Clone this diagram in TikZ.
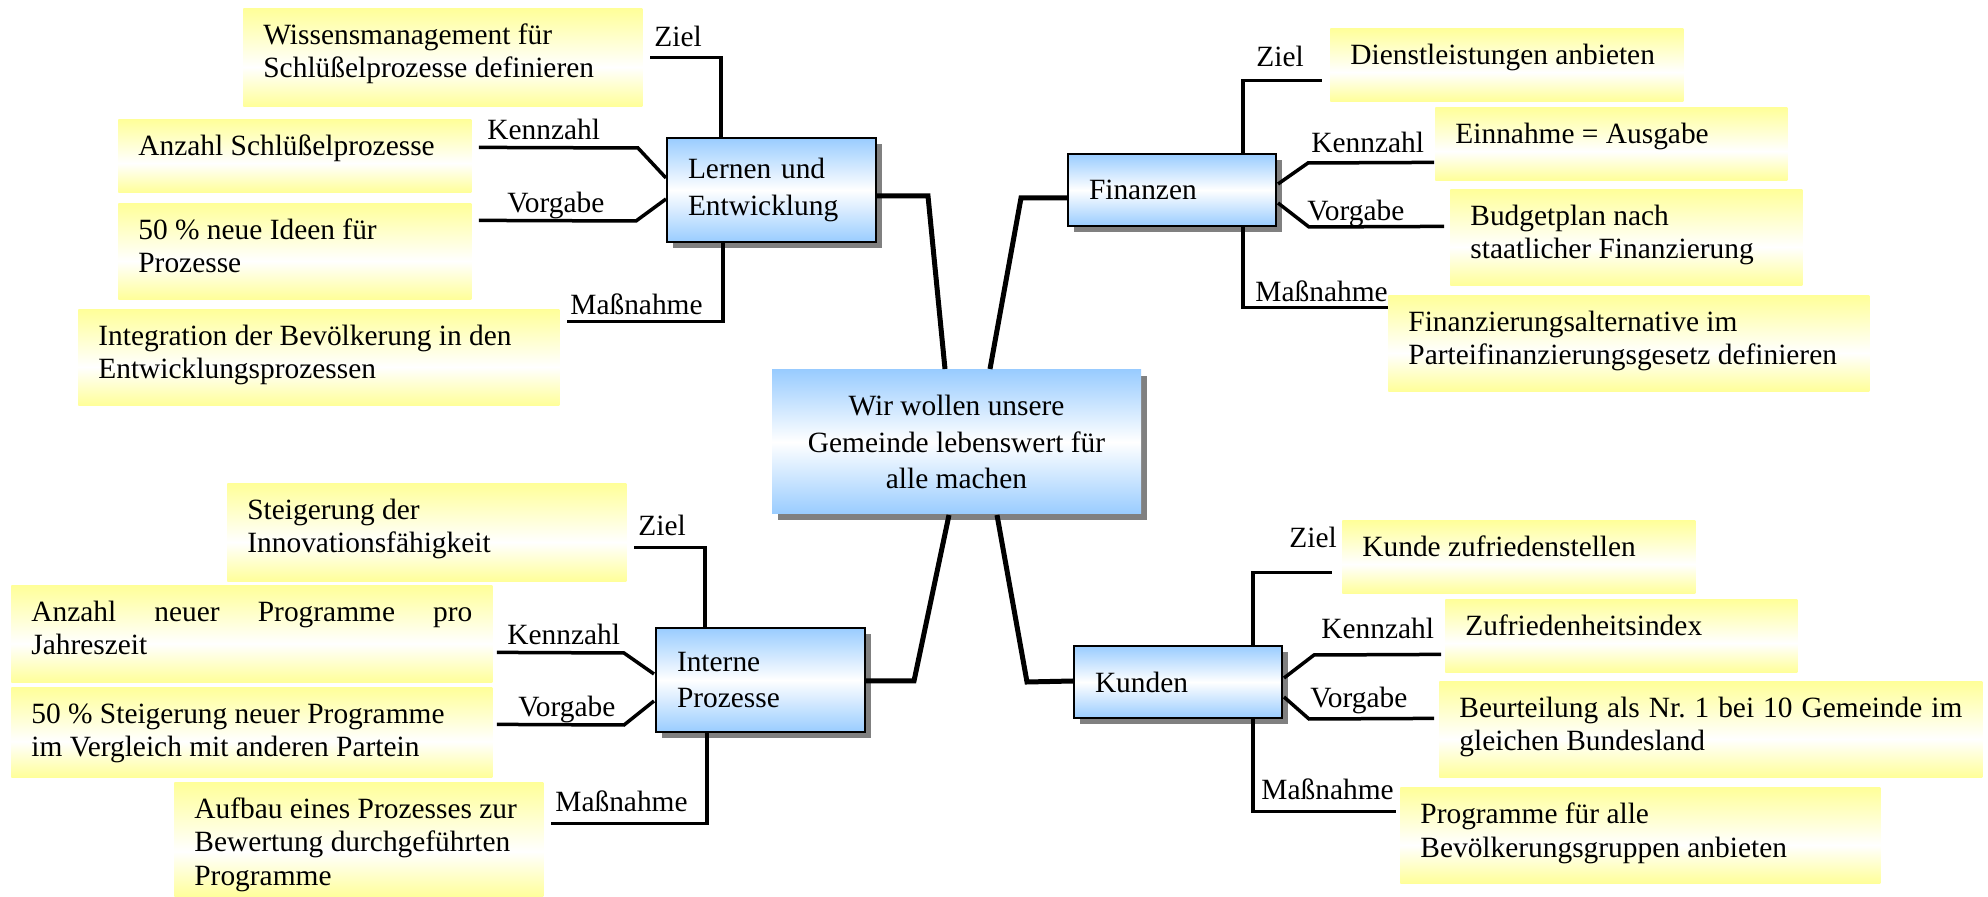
\documentclass[tikz,border=0pt]{standalone}
\usepackage{fontspec}
\setmainfont{Liberation Serif}
\usetikzlibrary{shadows,calc}
\definecolor{yel}{RGB}{255,255,153}
\definecolor{blu}{RGB}{153,204,255}
\definecolor{shd}{RGB}{128,128,128}
% soft vertical fades: yellow - white - yellow, blue - white - blue
\pgfdeclareverticalshading{yshade}{100bp}{color(0bp)=(yel); color(25bp)=(yel); color(45bp)=(white); color(75bp)=(yel); color(100bp)=(yel)}
\pgfdeclareverticalshading{bshade}{100bp}{color(0bp)=(blu); color(25bp)=(blu); color(50bp)=(white); color(75bp)=(blu); color(100bp)=(blu)}
\hyphenpenalty=10000 \exhyphenpenalty=10000
\frenchspacing
% yellow text box: name, x1, y1, x2, y2, text options, text (top aligned)
\newcommand\ynode[7]{%
  \pgfmathsetmacro\boxw{(#4-#2)*0.5}%
  \pgfmathsetmacro\boxh{(#5-#3)*0.5}%
  \node[ybox, minimum width=\boxw pt, minimum height=\boxh pt,
    anchor=north west] (#1) at (#2,#3) {};
  \node[ytext, #6] (#1t) at ([shift={(20,14)}]#1.north west) {\rule{0pt}{11pt}#7};}
% blue perspective box: name, x1, y1, x2, y2, text
\newcommand\bnode[6]{%
  \pgfmathsetmacro\boxw{(#4-#2)*0.5}%
  \pgfmathsetmacro\boxh{(#5-#3)*0.5}%
  \pgfmathsetmacro\boxtw{(#4-#2-42)*0.5}%
  \node[bbox, align=left, text width=\boxtw pt, minimum width=\boxw pt,
    minimum height=\boxh pt, anchor=north west] (#1) at (#2,#3) {#6};}
\begin{document}
\begin{tikzpicture}[x=0.5pt, y=-0.5pt,
  font=\fontsize{14.7pt}{16.8pt}\selectfont,
  ybox/.style={inner sep=0pt, shade, shading=yshade},
  ytext/.style={anchor=north west, inner sep=0pt, align=left},
  bbox/.style={inner sep=0pt, shade, shading=bshade, draw=black, line width=1pt,
    font=\fontsize{14.7pt}{18.4pt}\selectfont,
    drop shadow={shadow xshift=3pt, shadow yshift=-3pt, fill=shd, opacity=1}},
  lab/.style={anchor=base west, inner sep=0pt},
  br/.style={line width=1.75pt},
  trunk/.style={line width=2.5pt}]
\useasboundingbox[fill=white] (0,0) rectangle (1988,897);

% central vision
\node[bbox, draw=none, align=center, minimum width=184.5pt, minimum height=72pt,
  anchor=north west] (C) at (771,369)
  {Wir wollen unsere\\Gemeinde lebenswert für\\alle machen};

% four perspectives
\bnode{L}{666}{137}{875}{241}{Lernen und\\Entwicklung}
\bnode{F}{1067}{153}{1275}{225}{Finanzen}
\bnode{I}{655}{627}{864}{731}{Interne\\Prozesse}
\bnode{K}{1073}{645}{1281}{717}{Kunden}

% Lernen und Entwicklung
\ynode{wiss}{243}{8}{642}{106}{}{Wissensmanagement für\\Schlüßelprozesse definieren}
\ynode{anzs}{118}{119}{471}{192}{}{Anzahl Schlüßelprozesse}
\ynode{ideen}{118}{203}{471}{299}{}{50 \% neue Ideen für\\Prozesse}
\ynode{integ}{78}{309}{559}{405}{}{Integration der Bevölkerung in den\\Entwicklungsprozessen}

% Finanzen
\ynode{dienst}{1330}{28}{1683}{101}{}{Dienstleistungen anbieten}
\ynode{einn}{1435}{107}{1787}{180}{}{Einnahme = Ausgabe}
\ynode{budget}{1450}{189}{1802}{285}{}{Budgetplan nach\\staatlicher Finanzierung}
\ynode{finalt}{1388}{295}{1869}{391}{}{Finanzierungsalternative im\\Parteifinanzierungsgesetz definieren}

% Interne Prozesse
\ynode{steig}{227}{483}{626}{581}{}{Steigerung der\\Innovationsfähigkeit}
\ynode{anzp}{11}{585}{492}{682}{align=justify, text width=220.5pt}{\tolerance=10000 Anzahl neuer Programme pro Jahreszeit}
\ynode{steigp}{11}{687}{492}{777}{}{50 \% Steigerung neuer Programme\\im Vergleich mit anderen Partein}
\ynode{aufbau}{174}{782}{543}{897}{}{Aufbau eines Prozesses zur\\Bewertung durchgeführten\\Programme}

% Kunden
\ynode{kzufr}{1342}{520}{1695}{593}{}{Kunde zufriedenstellen}
\ynode{zufr}{1445}{599}{1797}{672}{}{Zufriedenheitsindex}
\ynode{beurt}{1439}{681}{1982}{777}{align=justify, text width=251.5pt}{Beurteilung als Nr. 1 bei 10 Gemeinde im gleichen Bundesland}
\ynode{progr}{1400}{787}{1880}{883}{}{Programme für alle\\Bevölkerungsgruppen anbieten}

% trunks from the vision to the perspectives
\draw[trunk] ([shift={(0,6)}]L.east) -- ++(51,0) -- ([shift={(-11.5,0)}]C.north);
\draw[trunk] ([shift={(0,8)}]F.west) -- ++(-46,0) -- ([shift={(33.5,0)}]C.north);
\draw[trunk] ([shift={(0,1)}]I.east) -- ++(48,0) -- ([shift={(-7.5,0)}]C.south);
\draw[trunk] ([shift={(40.5,0)}]C.south) -- ++(30,167) -- ([shift={(0,-1)}]K.west);

% branches: Lernen und Entwicklung
\draw[br] ([shift={(55,0)}]L.north west) |- ([shift={(7,0)}]wiss.east);
\draw[br] ([shift={(0,-12)}]L.west) -- ++(-28,-30) -- ([shift={(7,-8.5)}]anzs.east);
\draw[br] ([shift={(0,9)}]L.west) -- ++(-30,22) -- ([shift={(7,-31)}]ideen.east);
\draw[br] ([shift={(57,0)}]L.south west) |- ([shift={(7,-36)}]integ.east);
\node[lab] (lz) at (654,47) {Ziel};
\node[lab] (lk) at (487,140) {Kennzahl};
\node[lab] (lv) at (507,213) {Vorgabe};
\node[lab] (lm) at (570,315) {Maßnahme};

% branches: Finanzen
\draw[br] ([shift={(176,0)}]F.north west) |- ([shift={(-8,15.5)}]dienst.west);
\draw[br] ([shift={(1,-6)}]F.east) -- ++(30,-21) -- ([shift={(-1,18.5)}]einn.west);
\draw[br] ([shift={(1,13)}]F.east) -- ++(31,24) -- ([shift={(-6,-11)}]budget.west);
\draw[br] ([shift={(176,0)}]F.south west) |- ([shift={(0,-36)}]finalt.west);
\node[lab] (fz) at (1256,67) {Ziel};
\node[lab] (fk) at (1311,153) {Kennzahl};
\node[lab] (fv) at (1307,221) {Vorgabe};
\node[lab] (fm) at (1255,302) {Maßnahme};

% branches: Interne Prozesse
\draw[br] ([shift={(50,0)}]I.north west) |- ([shift={(7,15)}]steig.east);
\draw[br] ([shift={(-1,-6)}]I.west) -- ++(-30,-21) -- ([shift={(4,18.5)}]anzp.east);
\draw[br] ([shift={(-1,21)}]I.west) -- ++(-30,24) -- ([shift={(4,-8)}]steigp.east);
\draw[br] ([shift={(52,0)}]I.south west) |- ([shift={(7,-16.5)}]aufbau.east);
\node[lab] (iz) at (638,536) {Ziel};
\node[lab] (ik) at (507,645) {Kennzahl};
\node[lab] (iv) at (518,717) {Vorgabe};
\node[lab] (im) at (555,812) {Maßnahme};

% branches: Kunden
\draw[br] ([shift={(180,0)}]K.north west) |- ([shift={(-10,15.5)}]kzufr.west);
\draw[br] ([shift={(1,-4)}]K.east) -- ++(30,-23) -- ([shift={(-4,18.5)}]zufr.west);
\draw[br] ([shift={(1,15)}]K.east) -- ++(25,22) -- ([shift={(-5,-11)}]beurt.west);
\draw[br] ([shift={(180,0)}]K.south west) |- ([shift={(-4,-24)}]progr.west);
\node[lab] (kz) at (1289,548) {Ziel};
\node[lab] (kk) at (1321,639) {Kennzahl};
\node[lab] (kv) at (1310,708) {Vorgabe};
\node[lab] (km) at (1261,800) {Maßnahme};
\end{tikzpicture}
\end{document}
